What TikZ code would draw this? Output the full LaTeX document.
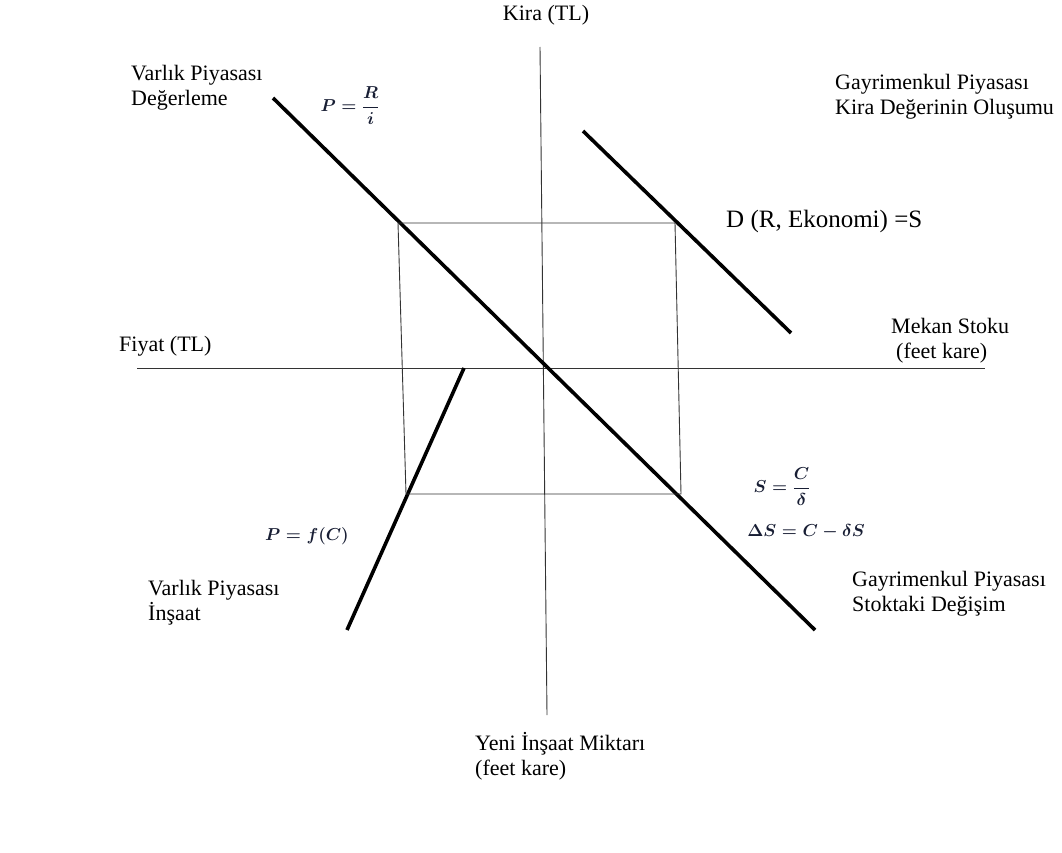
\documentclass[tikz,border=0pt]{standalone}
\usepackage{fontspec}
\setmainfont{Liberation Serif}
\begin{document}
\begin{tikzpicture}[x=1pt, y=-1pt,
    axis/.style={draw=black!80, line width=0.9pt},
    curve/.style={draw=black, line width=3.6pt},
    guide/.style={draw=black!80, line width=0.9pt},
    lbl/.style={font=\fontsize{22}{25.5}\selectfont, inner sep=0pt, align=left, anchor=north west},
    eqn/.style={font=\fontsize{17.28}{22}\selectfont\boldmath, text={rgb,255:red,24;green,30;blue,52}, inner sep=0pt}
  ]
    \useasboundingbox (0,0) rectangle (1062,853);
    % axes
    \coordinate (ktop) at (540,47);
    \coordinate (kbot) at (547,715);
    \coordinate (fleft) at (137,368);
    \coordinate (fright) at (985,368);
    \draw[axis] (ktop) -- (kbot);
    \draw[axis] (fleft) -- (fright);
    % curves
    \coordinate (val1) at (273,98);
    \coordinate (val2) at (815,630);
    \coordinate (dem1) at (583,131);
    \coordinate (dem2) at (791,333);
    \coordinate (con1) at (464,368);
    \coordinate (con2) at (347,630);
    \draw[curve] (val1) -- (val2);
    \draw[curve] (dem1) -- (dem2);
    \draw[curve] (con1) -- (con2);
    % equilibrium rectangle
    \coordinate (tl) at (398,223);
    \coordinate (tr) at (675,223);
    \coordinate (br) at (681,494);
    \coordinate (bl) at (406,494);
    \draw[guide] (tl) -- (tr) -- (br) -- (bl) -- cycle;
    % axis labels
    \node[lbl, anchor=north] (kira) at (546,5) {Kira (TL)};
    \node[lbl] (fiyat) at (119,336) {Fiyat (TL)};
    \node[lbl] (stok) at (891,318) {Mekan Stoku\\\hspace{5pt}(feet kare)};
    \node[lbl] (yeni) at (475,732) {Yeni İnşaat Miktarı\\(feet kare)};
    % quadrant labels
    \node[lbl] (degerleme) at (131,65) {Varlık Piyasası\\Değerleme};
    \node[lbl] (kiradeger) at (835,74) {Gayrimenkul Piyasası\\Kira Değerinin Oluşumu};
    \node[lbl] (insaat) at (148,580) {Varlık Piyasası\\İnşaat};
    \node[lbl] (stokdeg) at (852,571) {Gayrimenkul Piyasası\\Stoktaki Değişim};
    % equations
    \node[lbl, font=\fontsize{25}{28}\selectfont, anchor=west] (talep) at (726,221) {D (R, Ekonomi) =S};
    \node[eqn] (pri) at (350,106) {$\displaystyle P=\frac{R}{i}$};
    \node[eqn] (scd) at (782,487) {$\displaystyle S=\frac{C}{\delta}$};
    \node[eqn] (dscd) at (806,532) {$\Delta S=C-\delta S$};
    \node[eqn] (pfc) at (307,536) {$P=f(C)$};
\end{tikzpicture}
\end{document}
